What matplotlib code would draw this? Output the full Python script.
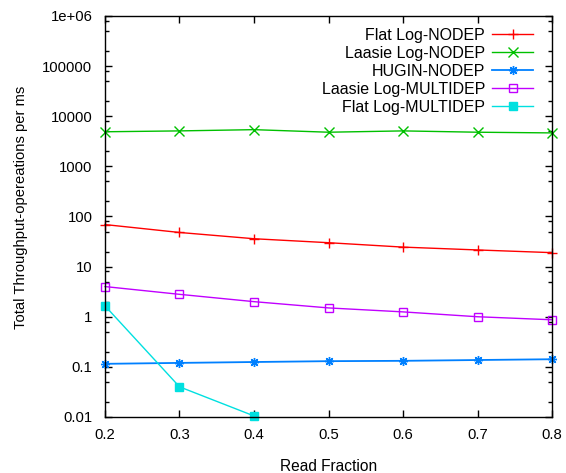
import matplotlib
matplotlib.use("Agg")
import matplotlib.pyplot as plt
from matplotlib.ticker import LogLocator, FixedLocator, NullFormatter, FuncFormatter

plt.rcParams['font.family'] = ['Liberation Sans', 'DejaVu Sans']

read_fraction = [0.2, 0.3, 0.4, 0.5, 0.6, 0.7, 0.8]
flat_nodep = [69, 48, 36, 30, 24.5, 21.5, 19]
laasie_nodep = [4900, 5100, 5400, 4800, 5100, 4800, 4650]
hugin_nodep = [0.115, 0.12, 0.125, 0.13, 0.132, 0.137, 0.142]
laasie_multidep = [4.0, 2.8, 2.0, 1.5, 1.25, 1.0, 0.87]
flat_multidep_x = [0.2, 0.3, 0.4]
flat_multidep = [1.65, 0.04, 0.0105]

series = [
    ("Flat Log-NODEP", read_fraction, flat_nodep, "#ff0000", "+", "none"),
    ("Laasie Log-NODEP", read_fraction, laasie_nodep, "#00c000", "x", "none"),
    ("HUGIN-NODEP", read_fraction, hugin_nodep, "#0080ff", (8, 2, 0), "none"),
    ("Laasie Log-MULTIDEP", read_fraction, laasie_multidep, "#c000ff", "s", "none"),
    ("Flat Log-MULTIDEP", flat_multidep_x, flat_multidep, "#00e0e0", "s", "full"),
]

fig = plt.figure(figsize=(5.66, 4.73), dpi=100)
ax = fig.add_axes([0.1855, 0.1184, 0.7898, 0.8478])

for label, xs, ys, color, marker, fill in series:
    if fill == "none" and marker == "s":
        ax.plot(xs, ys, color=color, lw=1, marker=marker, ms=6,
                mfc="none", mec=color, mew=1, label=label, clip_on=False)
    elif fill == "full":
        ax.plot(xs, ys, color=color, lw=1, marker=marker, ms=6,
                mfc=color, mec=color, label=label, clip_on=False)
    else:
        lw = 1.3 if label.startswith("HUGIN") else 1
        ax.plot(xs, ys, color=color, lw=lw, marker=marker, ms=6.5,
                mew=1, label=label, clip_on=False)

ax.set_yscale('log')
ax.set_ylim(0.01, 1e6)
ax.set_xlim(0.2, 0.8)

ax.xaxis.set_major_locator(FixedLocator(read_fraction))
ax.xaxis.set_major_formatter(FuncFormatter(lambda v, p: f"{v:.1f}"))
ax.yaxis.set_major_locator(LogLocator(base=10, numticks=20))
ax.yaxis.set_minor_locator(LogLocator(base=10, subs=[2, 5, 8], numticks=20))
ax.yaxis.set_minor_formatter(NullFormatter())

def yfmt(v, p):
    if v >= 1e6:
        return "1e+06"
    if v >= 1:
        return f"{int(round(v))}"
    return f"{v:g}"
ax.yaxis.set_major_formatter(FuncFormatter(yfmt))

ax.tick_params(which='both', direction='in', top=True, right=True, labelsize=10.7)
ax.tick_params(which='major', length=5, width=1)
ax.tick_params(which='minor', length=3, width=1)
ax.tick_params(axis='y', pad=9)
ax.tick_params(axis='x', pad=8)
for s in ax.spines.values():
    s.set_linewidth(1)

ax.set_xlabel("Read Fraction", fontsize=11.2, labelpad=12)
ax.set_ylabel("Total Throughput-opereations per ms", fontsize=10.6)
ax.yaxis.set_label_coords(-0.172, 0.522)

leg = ax.legend(loc='upper right', bbox_to_anchor=(0.972, 0.987),
                frameon=False, markerfirst=False,
                fontsize=11.5, handlelength=2.56, labelspacing=0.19,
                borderaxespad=0.0, handletextpad=0.44)

fig.savefig("out.png", dpi=100)
